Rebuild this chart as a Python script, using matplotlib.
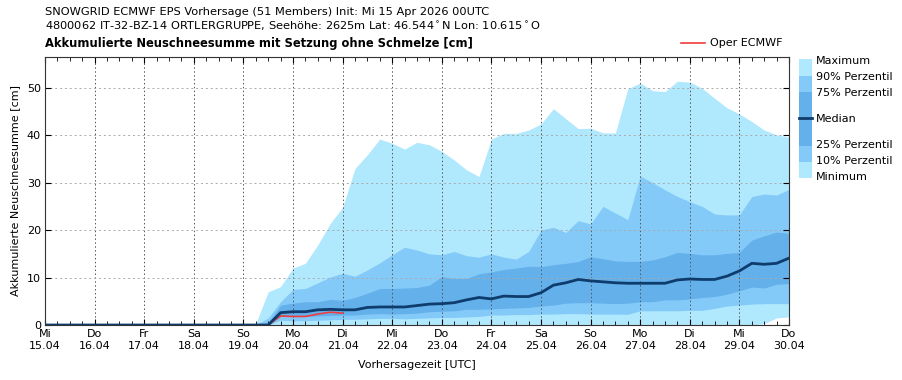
import numpy as np
import matplotlib
matplotlib.use('Agg')
from matplotlib import pyplot as plt
from matplotlib.lines import Line2D
from matplotlib.patches import Rectangle

# Zeitachse: 6-stuendlich ab Init (in Tagen)
steps = np.arange(61) * 0.25

day_names = ['Mi', 'Do', 'Fr', 'Sa', 'So', 'Mo', 'Di', 'Mi', 'Do', 'Fr', 'Sa', 'So', 'Mo', 'Di', 'Mi', 'Do']
day_dates = ['15.04', '16.04', '17.04', '18.04', '19.04', '20.04', '21.04', '22.04',
             '23.04', '24.04', '25.04', '26.04', '27.04', '28.04', '29.04', '30.04']

z17 = [0.0] * 17  # bis So 19.04 06UTC kein Schnee

smax = z17 + [0.3, 7.0, 8.1, 12.0, 13.0, 16.9, 21.4, 24.8, 33.0, 35.9, 39.2, 38.3, 37.1, 38.5,
              38.0, 36.6, 34.8, 32.7, 31.3, 39.2, 40.4, 40.4, 41.1, 42.4, 45.6, 43.5, 41.4,
              41.5, 40.5, 40.5, 49.8, 51.0, 49.4, 49.2, 51.4, 51.2, 49.9, 47.8, 45.8, 44.5,
              42.9, 41.1, 40.1, 39.6]
p90 = z17 + [0.0, 1.5, 4.9, 7.5, 7.7, 8.9, 10.1, 10.9, 10.3, 11.6, 13.1, 14.8, 16.4, 15.8,
             15.0, 14.8, 15.5, 14.6, 14.3, 15.0, 14.3, 13.9, 15.5, 20.0, 20.6, 19.5, 22.0,
             21.3, 25.0, 23.6, 22.2, 31.4, 30.0, 28.5, 27.1, 26.0, 25.0, 23.4, 23.2, 23.2,
             27.1, 27.6, 27.4, 28.6]
p75 = z17 + [0.0, 0.5, 4.2, 4.6, 4.9, 4.9, 5.4, 5.2, 5.8, 6.7, 7.7, 7.7, 7.8, 7.9,
             8.4, 10.2, 9.8, 9.8, 10.8, 11.2, 11.7, 12.0, 12.4, 12.3, 12.7, 13.0, 13.4,
             14.4, 14.0, 13.5, 13.4, 13.4, 13.7, 14.4, 15.3, 15.1, 14.8, 14.8, 15.1, 15.3,
             17.9, 18.8, 19.6, 19.3]
median = z17 + [0.0, 0.0, 2.6, 2.8, 2.8, 3.2, 3.3, 3.2, 3.2, 3.7, 3.8, 3.8, 3.8, 4.1,
                4.4, 4.5, 4.7, 5.3, 5.8, 5.5, 6.1, 6.0, 6.0, 6.8, 8.4, 8.9, 9.6,
                9.3, 9.1, 8.9, 8.8, 8.8, 8.8, 8.8, 9.5, 9.7, 9.6, 9.6, 10.3, 11.4,
                13.0, 12.8, 13.0, 14.1]
p25 = z17 + [0.0, 0.0, 1.8, 1.8, 1.8, 1.9, 2.0, 2.1, 2.1, 2.3, 2.4, 2.3, 2.4, 2.5,
             2.8, 2.9, 3.0, 3.3, 3.3, 3.4, 3.5, 3.6, 3.7, 4.0, 4.2, 4.6, 4.7,
             4.7, 4.6, 4.5, 4.6, 4.9, 4.9, 5.3, 5.3, 5.5, 5.8, 6.0, 6.5, 7.2,
             8.0, 7.8, 8.6, 8.7]
p10 = z17 + [0.0, 0.0, 1.0, 0.9, 0.9, 1.0, 1.1, 1.2, 1.2, 1.3, 1.4, 1.4, 1.3, 1.4,
             1.5, 1.6, 1.6, 1.7, 1.8, 2.1, 2.1, 2.2, 2.2, 2.3, 2.3, 2.4, 2.4,
             2.3, 2.3, 2.3, 2.25, 3.0, 3.0, 3.0, 3.0, 3.1, 3.1, 3.5, 4.0, 4.2,
             4.4, 4.5, 4.5, 4.5]
smin = [0.0] * 58 + [0.3, 1.5, 1.7]

# Oper ECMWF bis +144h
oper = [0.0] * 19 + [1.9, 1.8, 1.8, 2.3, 2.7, 2.5]
oper_steps = steps[:len(oper)]

c_light = '#B0E8FD'
c_mid = '#84CAF9'
c_dark = '#64B0EA'
c_median = '#0E3C6C'
c_oper = '#F03C3C'

fig = plt.figure(figsize=(9.03, 3.8), dpi=100)
ax = fig.add_axes([45/903, 55/380, 744/903, 268/380])

ax.fill_between(steps, smin, smax, color=c_light, lw=0, zorder=1)
ax.fill_between(steps, p10, p90, color=c_mid, lw=0, zorder=1)
ax.fill_between(steps, p25, p75, color=c_dark, lw=0, zorder=1)
ax.plot(oper_steps, oper, color=c_oper, lw=1.2, zorder=3)
ax.plot(steps, median, color=c_median, lw=2.0, zorder=4)

ax.set_xlim(0, 15)
ax.set_ylim(0, 56.5)
ax.set_yticks([0, 10, 20, 30, 40, 50])
ax.set_xticks(np.arange(16))
ax.set_xticks(steps, minor=True)
ax.set_xticklabels([f'{d}\n{t}' for d, t in zip(day_names, day_dates)],
                   fontsize=8, linespacing=1.2)
ax.tick_params(axis='both', which='both', direction='in', top=True, right=True)
ax.tick_params(axis='both', which='major', length=4, labelsize=8, pad=3)
ax.tick_params(axis='x', which='minor', length=3)
ax.grid(True, which='major', axis='x', color='#555555', ls=(0, (1.5, 2.5)), lw=0.7, zorder=2)
ax.grid(True, which='major', axis='y', color='#aaaaaa', ls=(0, (2, 3)), lw=0.7, zorder=2)
ax.set_axisbelow(False)
for s in ax.spines.values():
    s.set_color('#333333')
    s.set_zorder(5)

ax.set_ylabel('Akkumulierte Neuschneesumme [cm]', fontsize=8, labelpad=5)
ax.set_xlabel('Vorhersagezeit [UTC]', fontsize=8, labelpad=7)

# Kopfzeilen
fig.text(45/903, 1 - 12/380, 'SNOWGRID ECMWF EPS Vorhersage (51 Members) Init: Mi 15 Apr 2026 00UTC',
         fontsize=8.2, va='center', ha='left')
fig.text(45/903, 1 - 26/380, '4800062 IT-32-BZ-14 ORTLERGRUPPE, Seehöhe: 2625m Lat: 46.544$^\\circ$N Lon: 10.615$^\\circ$O',
         fontsize=8.2, va='center', ha='left')
fig.text(45/903, 1 - 43/380, 'Akkumulierte Neuschneesumme mit Setzung ohne Schmelze [cm]',
         fontsize=8.3, fontweight='bold', va='center', ha='left')

# Legende Oper
fig.add_artist(Line2D([681/903, 705/903], [1 - 43/380, 1 - 43/380], color=c_oper, lw=1.2))
fig.text(710/903, 1 - 43/380, 'Oper ECMWF', fontsize=8, va='center', ha='left')

# Legende Perzentile
def fy(y):
    return 1 - y/380

x0, x1 = 799/903, 812/903
bands = [(59.3, 76, c_light), (76, 91.7, c_mid), (91.7, 146, c_dark), (146, 161.7, c_mid), (161.7, 177.7, c_light)]
for top, bot, col in bands:
    fig.add_artist(Rectangle((x0, fy(bot)), x1 - x0, fy(top) - fy(bot), transform=fig.transFigure,
                             color=col, lw=0))
fig.add_artist(Line2D([x0, x1], [fy(118.3), fy(118.3)], color=c_median, lw=2.0))
labels = [(61, 'Maximum'), (76.5, '90% Perzentil'), (92.5, '75% Perzentil'), (119.5, 'Median'),
          (145.5, '25% Perzentil'), (161, '10% Perzentil'), (177.5, 'Minimum')]
for y, txt in labels:
    fig.text(816/903, fy(y), txt, fontsize=8, va='center', ha='left')

fig.savefig('out.png', dpi=100)
